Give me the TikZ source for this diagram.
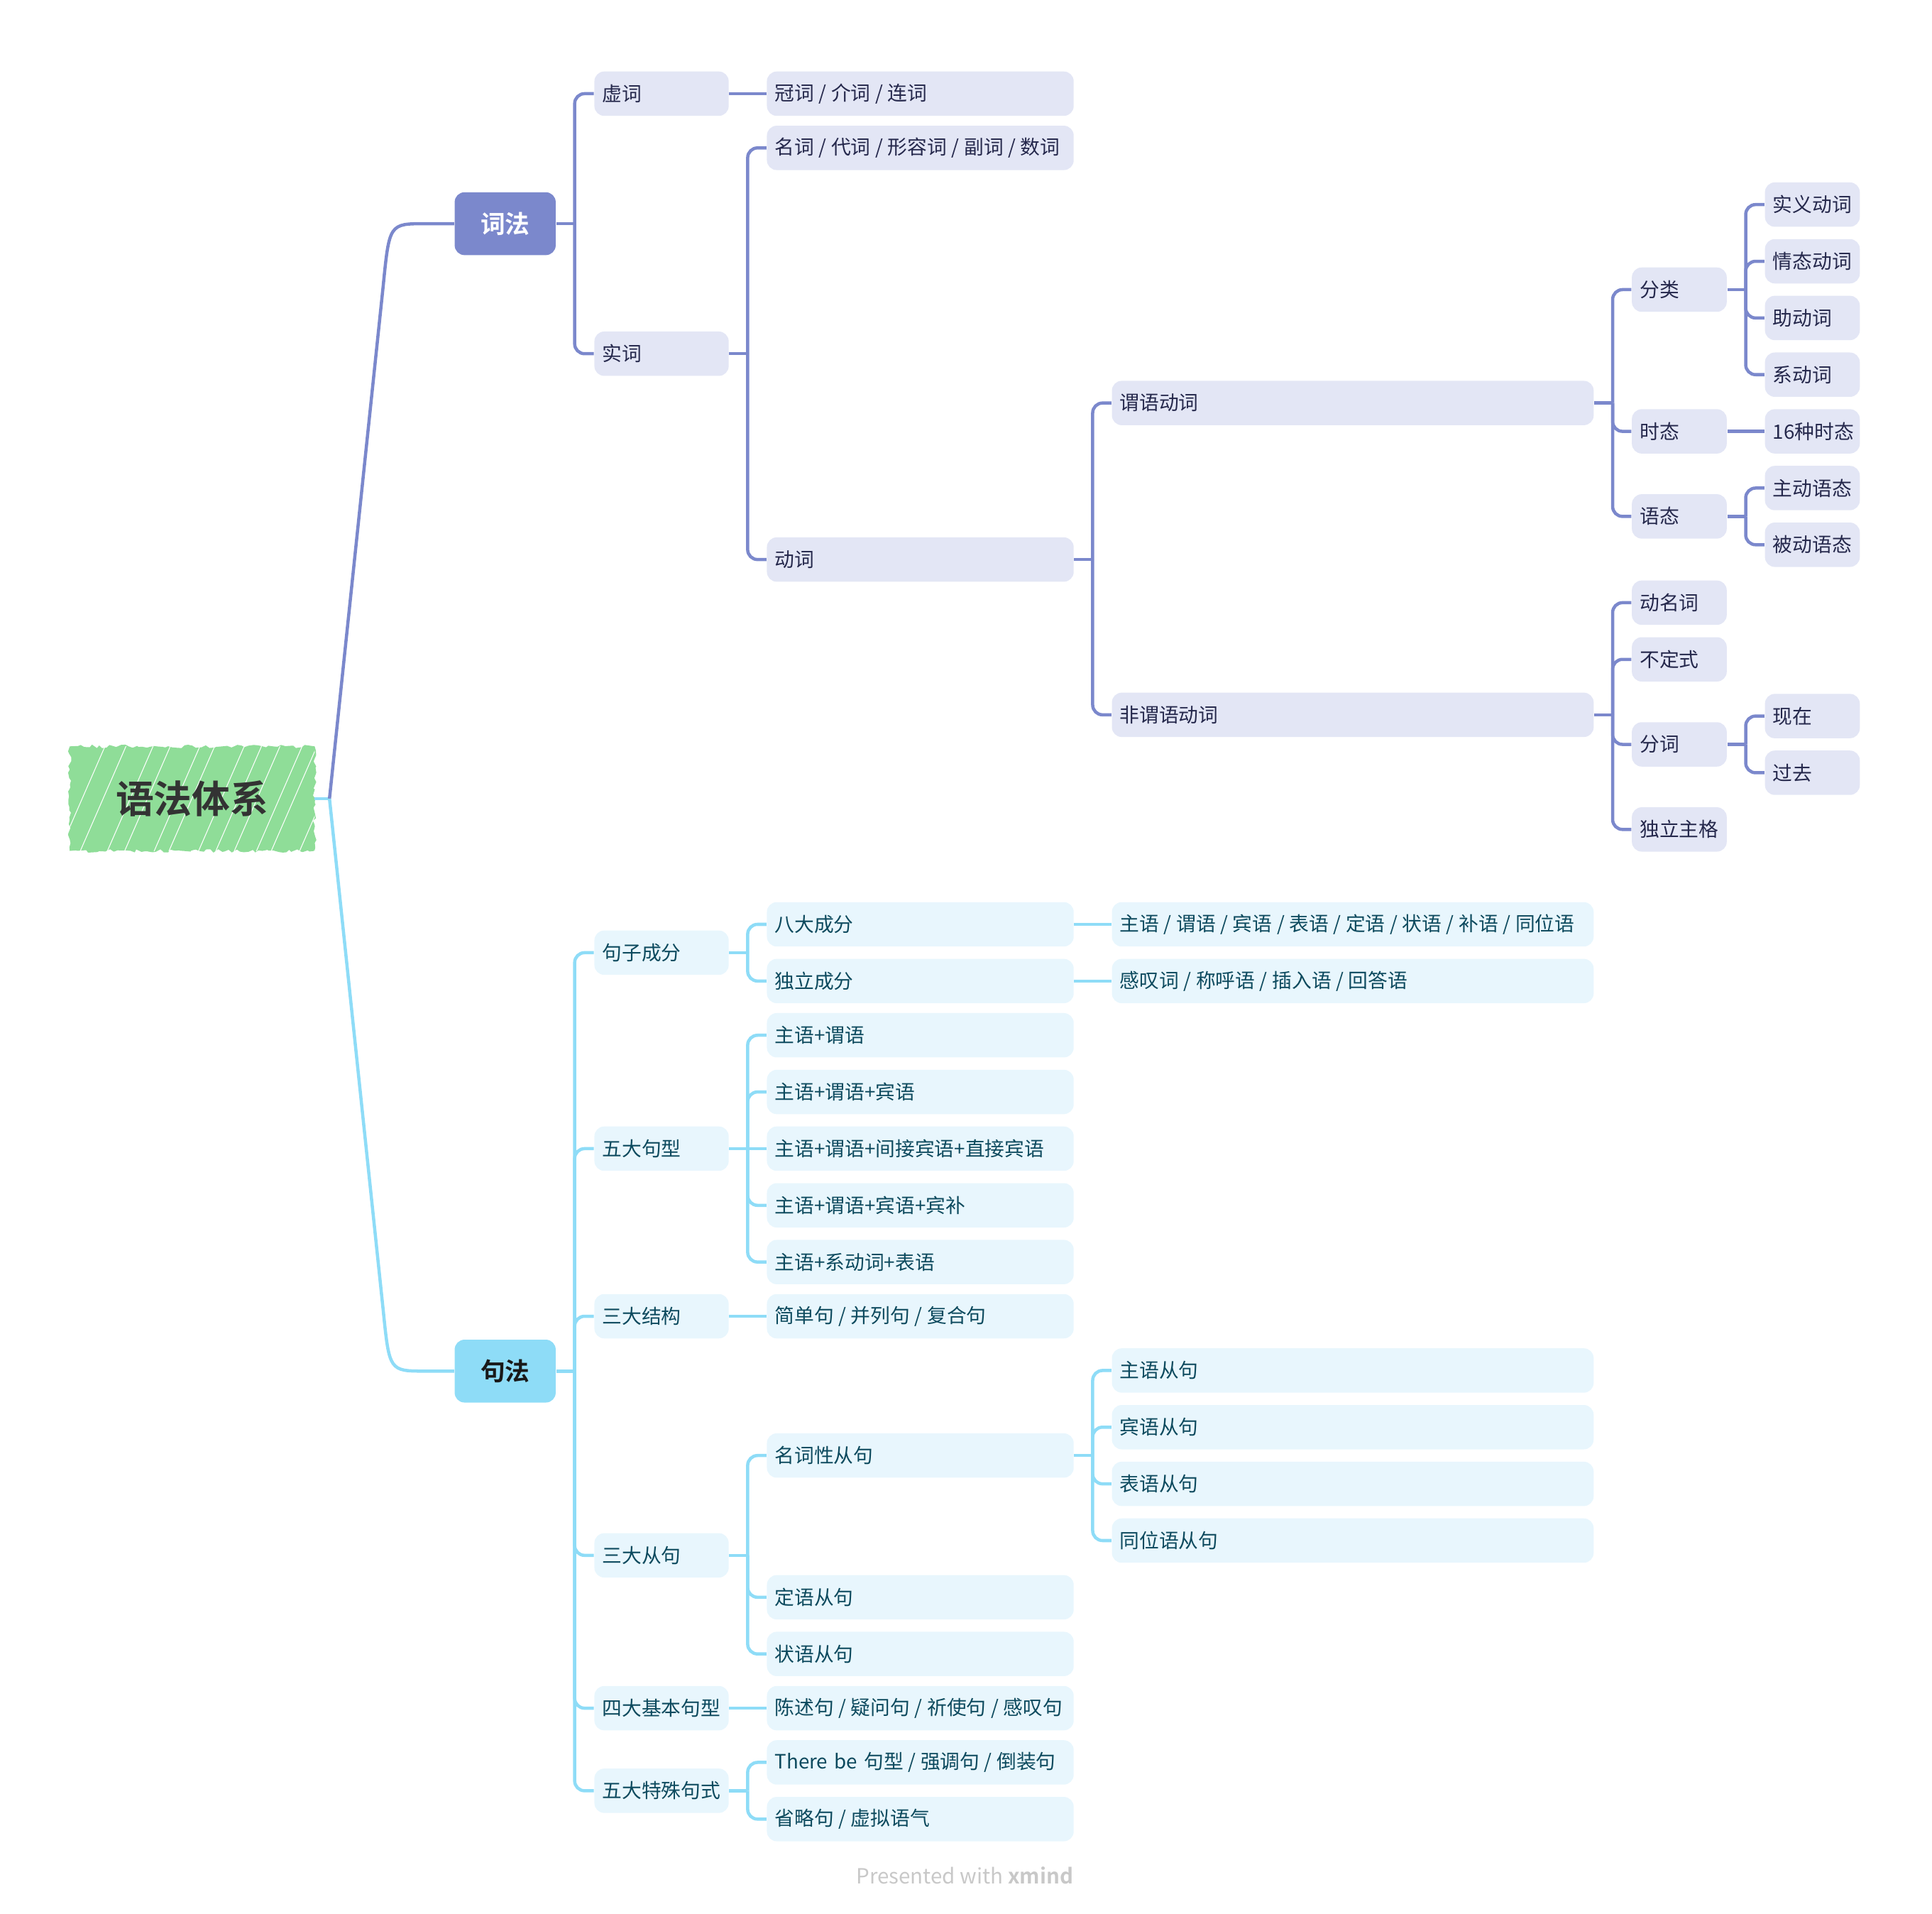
\documentclass[tikz,border=0pt]{standalone}
\usepackage{fontspec}
\setmainfont{Noto Sans CJK SC}[BoldFont={* Bold}]
\usetikzlibrary{backgrounds,decorations.pathmorphing}

\definecolor{cimain}{HTML}{7B88CC}
\definecolor{cibox}{HTML}{E3E6F5}
\definecolor{citext}{HTML}{25284C}
\definecolor{jumain}{HTML}{8EDCF7}
\definecolor{jubox}{HTML}{E8F6FD}
\definecolor{jutext}{HTML}{0D4A5E}
\definecolor{rootgreen}{HTML}{8FDD98}
\definecolor{wmgray}{HTML}{C8C8C8}

\tikzset{
  leaf/.style={anchor=west, rounded corners=4pt, minimum height=18pt,
    inner xsep=3.2pt, inner ysep=0pt, align=left, font=\fontsize{8}{9}\selectfont},
  ci/.style={leaf, fill=cibox, text=citext},
  ju/.style={leaf, fill=jubox, text=jutext},
  w2/.style={text width=48.1pt},
  w3/.style={text width=118.1pt},
  w4/.style={text width=189.1pt},
  w5/.style={text width=32.1pt},
  cil/.style={draw=cimain, line width=1.3pt},
  jul/.style={draw=jumain, line width=1.3pt},
  topic/.style={rounded corners=4pt, minimum width=41pt, minimum height=25.5pt,
    font=\bfseries\fontsize{10}{12}\selectfont}
}

% " / " between items
\newcommand{\dv}{\hspace{1.9pt}/\hspace{1.9pt}}

% parent -> spine -> children
\newcommand{\branchout}[3]{%
  \draw[#1] (#2.east) -- ++(15,0) coordinate (#2-s);
  \foreach \kid in {#3} \draw[#1, rounded corners=4pt] (#2-s) |- (\kid.west);
}

\begin{document}
\begin{tikzpicture}[x=0.5pt, y=-0.5pt]
\useasboundingbox (0,0) rectangle (1568,1553);

% root
\node[minimum width=99pt, minimum height=42pt, text=black!80,
  font=\bfseries\fontsize{15.5}{18}\selectfont] (root) at (156,648) {语法体系};
\begin{scope}[on background layer]
  \pgfmathsetseed{7}
  \fill[rootgreen, decorate, decoration={random steps, segment length=1.5pt, amplitude=0.7pt}]
    (root.south west) rectangle (root.north east);
  \clip (root.south west) rectangle (root.north east);
  \foreach \x in {44,61,83,97,121,133,157,171,186,204,216,239,251}
    \draw[white, line width=0.3pt] (\x,700) -- ++(48,-110);
\end{scope}

% main topics
\node[topic, fill=cimain, text=white] (cifa) at (410,181.5) {词法};
\node[topic, fill=jumain, text=black!90] (jufa) at (410,1112.5) {句法};

\draw[jul] (root.east) -- ++(12,0) coordinate (rt);
\draw[cil] (rt) -- (311,232) .. controls (316,181.5) .. (345,181.5) -- (cifa.west);
\draw[jul] (rt) -- (311,1063) .. controls (316,1112.5) .. (345,1112.5) -- (jufa.west);

% 词法
\node[ci,w2] (xuci) at (482,76) {虚词};
\node[ci,w2] (shici) at (482,287) {实词};
\node[ci,w3] (guanci) at (622,76) {冠词\dv 介词\dv 连词};
\node[ci,w3] (mingci) at (622,120) {名词\dv 代词\dv 形容词\dv 副词\dv 数词};
\node[ci,w3] (dongci) at (622,454) {动词};
\node[ci,w4] (weiyu) at (902,327) {谓语动词};
\node[ci,w4] (feiwei) at (902,580) {非谓语动词};
\node[ci,w5] (fenlei) at (1324,235) {分类};
\node[ci,w5] (shitai) at (1324,350) {时态};
\node[ci,w5] (yutai) at (1324,419) {语态};
\node[ci,w5] (shiyi) at (1432,166) {实义动词};
\node[ci,w5] (qingtai) at (1432,212) {情态动词};
\node[ci,w5] (zhudc) at (1432,258) {助动词};
\node[ci,w5] (xidc) at (1432,304) {系动词};
\node[ci,w5] (shiliu) at (1432,350) {16种时态};
\node[ci,w5] (zhudyt) at (1432,396) {主动语态};
\node[ci,w5] (beidyt) at (1432,442) {被动语态};
\node[ci,w5] (dongmc) at (1324,489) {动名词};
\node[ci,w5] (budings) at (1324,535) {不定式};
\node[ci,w5] (fenci) at (1324,604) {分词};
\node[ci,w5] (duli) at (1324,673) {独立主格};
\node[ci,w5] (xianzai) at (1432,581) {现在};
\node[ci,w5] (guoqu) at (1432,627) {过去};

\branchout{cil}{cifa}{xuci,shici}
\draw[cil] (xuci.east) -- (guanci.west);
\branchout{cil}{shici}{mingci,dongci}
\branchout{cil}{dongci}{weiyu,feiwei}
\branchout{cil}{weiyu}{fenlei,shitai,yutai}
\branchout{cil}{fenlei}{shiyi,qingtai,zhudc,xidc}
\draw[cil] (shitai.east) -- (shiliu.west);
\branchout{cil}{yutai}{zhudyt,beidyt}
\branchout{cil}{feiwei}{dongmc,budings,fenci,duli}
\branchout{cil}{fenci}{xianzai,guoqu}

% 句法
\node[ju,w2] (chengfen) at (482,773) {句子成分};
\node[ju,w2] (juxing) at (482,932) {五大句型};
\node[ju,w2] (jiegou) at (482,1068) {三大结构};
\node[ju,w2] (congju) at (482,1262) {三大从句};
\node[ju,w2] (jiben) at (482,1386) {四大基本句型};
\node[ju,w2] (teshu) at (482,1453) {五大特殊句式};

\node[ju,w3] (bada) at (622,750) {八大成分};
\node[ju,w3] (dulicf) at (622,796) {独立成分};
\node[ju,w4] (badax) at (902,750) {主语\dv 谓语\dv 宾语\dv 表语\dv 定语\dv 状语\dv 补语\dv 同位语};
\node[ju,w4] (dulix) at (902,796) {感叹词\dv 称呼语\dv 插入语\dv 回答语};
\node[ju,w3] (jx1) at (622,840) {主语+谓语};
\node[ju,w3] (jx2) at (622,886) {主语+谓语+宾语};
\node[ju,w3] (jx3) at (622,932) {主语+谓语+间接宾语+直接宾语};
\node[ju,w3] (jx4) at (622,978) {主语+谓语+宾语+宾补};
\node[ju,w3] (jx5) at (622,1024) {主语+系动词+表语};
\node[ju,w3] (jiegoux) at (622,1068) {简单句\dv 并列句\dv 复合句};
\node[ju,w3] (mingcx) at (622,1181) {名词性从句};
\node[ju,w3] (dingyu) at (622,1296) {定语从句};
\node[ju,w3] (zhuangyu) at (622,1342) {状语从句};
\node[ju,w4] (zhuyucj) at (902,1112) {主语从句};
\node[ju,w4] (binyucj) at (902,1158) {宾语从句};
\node[ju,w4] (biaoyucj) at (902,1204) {表语从句};
\node[ju,w4] (tongweicj) at (902,1250) {同位语从句};
\node[ju,w3] (jibenx) at (622,1386) {陈述句\dv 疑问句\dv 祈使句\dv 感叹句};
\node[ju,w3] (teshu1) at (622,1430) {There be 句型\dv 强调句\dv 倒装句};
\node[ju,w3] (teshu2) at (622,1476) {省略句\dv 虚拟语气};

\branchout{jul}{jufa}{chengfen,juxing,jiegou,congju,jiben,teshu}
\branchout{jul}{chengfen}{bada,dulicf}
\draw[jul] (bada.east) -- (badax.west);
\draw[jul] (dulicf.east) -- (dulix.west);
\branchout{jul}{juxing}{jx1,jx2,jx4,jx5}
\draw[jul] (juxing.east) -- (jx3.west);
\draw[jul] (jiegou.east) -- (jiegoux.west);
\branchout{jul}{congju}{mingcx,dingyu,zhuangyu}
\branchout{jul}{mingcx}{zhuyucj,binyucj,biaoyucj,tongweicj}
\draw[jul] (jiben.east) -- (jibenx.west);
\branchout{jul}{teshu}{teshu1,teshu2}

\node[text=wmgray, font=\fontsize{8.5}{10}\selectfont] (wm) at (783,1522) {Presented with \textbf{xmind}};

\end{tikzpicture}
\end{document}
